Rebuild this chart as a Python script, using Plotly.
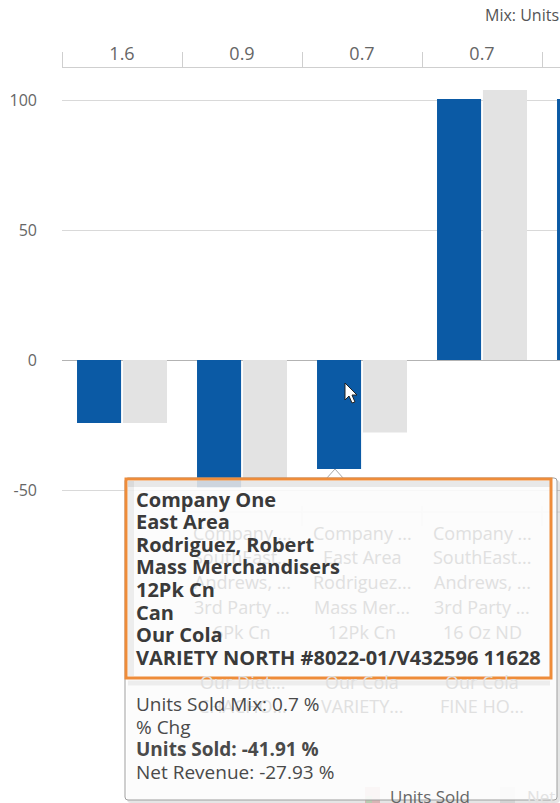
import plotly.graph_objects as go

# ---------------- data ----------------
cat_ids = ["C1", "C2", "C3", "C4", "C5"]
mix_labels = ["1.6", "0.9", "0.7", "0.7", "0.6"]
units_sold_chg = [-24.2, -49.0, -41.91, 100.4, 100.4]
net_revenue_chg = [-24.2, -46.0, -27.93, 103.8, 62.0]
y_ticks = [-50, 0, 50, 100]
y_tick_text = ["-50", "0", "50", "100"]
axis_title = "Mix: Units Sold"

ghost_company = ["", "Company ...", "Company ...", "Company ...", ""]
ghost_area = ["", "SouthEast...", "East Area", "SouthEast...", ""]
ghost_rep = ["", "Andrews, ...", "Rodriguez...", "Andrews, ...", ""]
ghost_channel = ["", "3rd Party ...", "Mass Mer...", "3rd Party ...", ""]
ghost_package = ["", "6Pk Cn", "12Pk Cn", "16 Oz ND", ""]
ghost_brand = ["", "Our Diet...", "Our Cola", "Our Cola", ""]
ghost_customer = ["", "CHACHO...", "VARIETY...", "FINE HO...", ""]

tooltip_header = ["Company One", "East Area", "Rodriguez, Robert", "Mass Merchandisers",
                  "12Pk Cn", "Can", "Our Cola", "VARIETY NORTH #8022-01/V432596 11628"]
tooltip_body = ["Units Sold Mix: 0.7 %", "% Chg", "<b>Units Sold: -41.91 %</b>", "Net Revenue: -27.93 %"]
legend_names = ["Units Sold", "Net Revenue"]

# ---------------- geometry helpers ----------------
W, H = 560, 803
ML, MT, MR, MB = 62, 68, 0, 291
PW, PH = W - ML - MR, H - MT - MB
FONT = "Open Sans"


def fx(px):
    return (px - ML) / PW


def fy(py):
    return (H - MB - py) / PH


def path(points, close=True):
    s = "M " + " L ".join(f"{fx(x):.5f},{fy(y):.5f}" for x, y in points)
    return s + (" Z" if close else "")


def rounded_rect(x0, y0, x1, y1, r):
    s = f"M {fx(x0 + r):.5f},{fy(y0):.5f} L {fx(x1 - r):.5f},{fy(y0):.5f} "
    s += f"Q {fx(x1):.5f},{fy(y0):.5f} {fx(x1):.5f},{fy(y0 + r):.5f} "
    s += f"L {fx(x1):.5f},{fy(y1 - r):.5f} Q {fx(x1):.5f},{fy(y1):.5f} {fx(x1 - r):.5f},{fy(y1):.5f} "
    s += f"L {fx(x0 + r):.5f},{fy(y1):.5f} Q {fx(x0):.5f},{fy(y1):.5f} {fx(x0):.5f},{fy(y1 - r):.5f} "
    s += f"L {fx(x0):.5f},{fy(y0 + r):.5f} Q {fx(x0):.5f},{fy(y0):.5f} {fx(x0 + r):.5f},{fy(y0):.5f} Z"
    return s


# ---------------- figure ----------------
fig = go.Figure()
fig.add_trace(go.Bar(x=cat_ids, y=units_sold_chg, name=legend_names[0],
                     marker=dict(color="#0B5AA5", line=dict(width=0))))
fig.add_trace(go.Bar(x=cat_ids, y=net_revenue_chg, name=legend_names[1],
                     marker=dict(color="#E3E3E3", line=dict(width=0))))

y_min = -(512 - 360) / 2.6
y_max = (360 - MT) / 2.6

fig.update_layout(
    width=W, height=H,
    margin=dict(l=ML, r=MR, t=MT, b=MB, pad=0),
    paper_bgcolor="white", plot_bgcolor="white",
    barmode="group", bargap=0.235, bargroupgap=0.04,
    showlegend=False,
    font=dict(family=FONT, color="#666666"),
    xaxis=dict(
        type="category", side="top", range=[-0.5, -0.5 + PW / 120.0],
        tickmode="array", tickvals=cat_ids, ticktext=mix_labels,
        tickson="boundaries", ticks="outside", ticklen=15, tickwidth=1,
        tickcolor="#cfcfcf", showline=True, linecolor="#cfcfcf", linewidth=1,
        showgrid=False, zeroline=False,
        tickfont=dict(size=18, color="#666666", family=FONT),
    ),
    yaxis=dict(
        range=[y_min, y_max], tickmode="array", tickvals=y_ticks, ticktext=y_tick_text,
        showgrid=True, gridcolor="#d9d9d9", gridwidth=1,
        zeroline=True, zerolinecolor="#b3b3b3", zerolinewidth=1,
        showline=False, ticks="", ticklabelstandoff=24,
        tickfont=dict(size=16, color="#666666", family=FONT),
    ),
)

shapes = []
# faint ghost bottom-axis line and boundary ticks (behind tooltip)
shapes.append(dict(type="line", xref="paper", yref="paper", x0=fx(182), x1=fx(560), y0=fy(512), y1=fy(512),
                   line=dict(color="#e6e6e6", width=1), layer="above"))
for b in [1.5, 2.5, 3.5]:
    shapes.append(dict(type="line", xref="x", yref="paper", x0=b, x1=b, y0=fy(506), y1=fy(526),
                       line=dict(color="#e3e3e3", width=1), layer="above"))

# legend (partially covered by tooltip)
shapes.append(dict(type="rect", xref="paper", yref="paper", x0=fx(365), x1=fx(380), y0=fy(803), y1=fy(787),
                   fillcolor="#efcaca", line=dict(width=0), layer="above"))
shapes.append(dict(type="rect", xref="paper", yref="paper", x0=fx(366), x1=fx(372), y0=fy(803), y1=fy(796),
                   fillcolor="#cfe3c4", line=dict(width=0), layer="above"))
shapes.append(dict(type="rect", xref="paper", yref="paper", x0=fx(500), x1=fx(515), y0=fy(803), y1=fy(787),
                   fillcolor="#ececec", line=dict(width=0), layer="above"))

# tooltip shadow
shapes.append(dict(type="path", xref="paper", yref="paper", path=rounded_rect(127, 480, 560, 803, 4),
                   fillcolor="rgba(0,0,0,0.10)", line=dict(width=0), layer="above"))
# tooltip pointer
shapes.append(dict(type="path", xref="paper", yref="paper",
                   path=path([(326, 479), (335, 469), (344, 479)]),
                   fillcolor="rgba(255,255,255,0.95)", line=dict(color="#a8a8a8", width=1), layer="above"))
# tooltip box
shapes.append(dict(type="path", xref="paper", yref="paper", path=rounded_rect(125, 478, 557, 800, 3),
                   fillcolor="rgba(255,255,255,0.87)", line=dict(color="#9f9f9f", width=1), layer="above"))
# inner shadow inside highlight
shapes.append(dict(type="line", xref="paper", yref="paper", x0=fx(128), x1=fx(550), y0=fy(484), y1=fy(484),
                   line=dict(color="rgba(0,0,0,0.08)", width=6), layer="above"))
shapes.append(dict(type="line", xref="paper", yref="paper", x0=fx(131), x1=fx(131), y0=fy(481), y1=fy(676),
                   line=dict(color="rgba(0,0,0,0.06)", width=6), layer="above"))
shapes.append(dict(type="line", xref="paper", yref="paper", x0=fx(128), x1=fx(550), y0=fy(683), y1=fy(683),
                   line=dict(color="rgba(0,0,0,0.06)", width=5), layer="above"))
# orange highlight
shapes.append(dict(type="rect", xref="paper", yref="paper", x0=fx(126), x1=fx(551), y0=fy(678), y1=fy(479),
                   fillcolor="rgba(0,0,0,0)", line=dict(color="#EE8C3A", width=3), layer="above"))
# mouse cursor
shapes.append(dict(type="path", xref="paper", yref="paper",
                   path=path([(345, 383), (345, 400), (349, 396), (352, 403), (355, 402), (352, 395), (357, 395)]),
                   fillcolor="white", line=dict(color="#222222", width=1), layer="above"))

annotations = []
# axis title (clipped by the right edge)
annotations.append(dict(xref="paper", yref="paper", x=fx(483), y=fy(15), xanchor="left", yanchor="middle",
                        text=axis_title, showarrow=False, font=dict(size=16, color="#555555", family=FONT)))

# ghost category labels behind tooltip
ghost_rows = [(533, ghost_company), (557, ghost_area), (582, ghost_rep), (607, ghost_channel),
              (632, ghost_package), (682, ghost_brand), (706, ghost_customer)]
for ypix, row in ghost_rows:
    for cid, txt in zip(cat_ids, row):
        if txt:
            annotations.append(dict(xref="x", yref="paper", x=cid, y=fy(ypix), xanchor="center",
                                    yanchor="middle", text=txt, showarrow=False,
                                    font=dict(size=18, color="#e0e0e0", family=FONT)))

# legend text
annotations.append(dict(xref="paper", yref="paper", x=fx(388), y=fy(796), xanchor="left", yanchor="middle",
                        text=legend_names[0], showarrow=False, font=dict(size=17, color="#666666", family=FONT)))
annotations.append(dict(xref="paper", yref="paper", x=fx(525), y=fy(796), xanchor="left", yanchor="middle",
                        text=legend_names[1], showarrow=False, font=dict(size=17, color="#e2e2e2", family=FONT)))

# tooltip header (bold)
for i, t in enumerate(tooltip_header):
    annotations.append(dict(xref="paper", yref="paper", x=fx(134), y=fy(499 + 22.6 * i), xanchor="left",
                            yanchor="middle", text=f"<b>{t}</b>", showarrow=False,
                            font=dict(size=20, color="#3a3a3a", family=FONT)))
# tooltip body
for i, t in enumerate(tooltip_body):
    annotations.append(dict(xref="paper", yref="paper", x=fx(134), y=fy(704 + 22.5 * i), xanchor="left",
                            yanchor="middle", text=t, showarrow=False,
                            font=dict(size=19, color="#4a4a4a", family=FONT)))

fig.update_layout(shapes=shapes, annotations=annotations)

fig.write_html("out.html", config={"displayModeBar": False},
               post_script="document.body.style.margin='0';document.body.style.overflow='hidden';")
